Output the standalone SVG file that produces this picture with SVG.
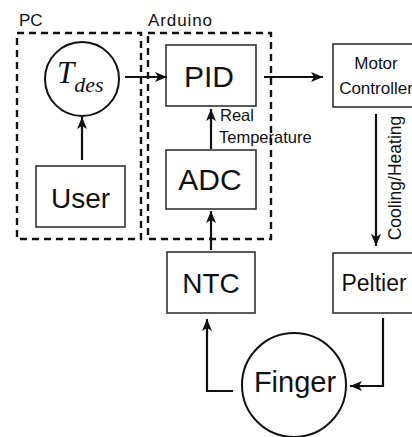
<svg xmlns="http://www.w3.org/2000/svg" width="412" height="437" viewBox="0 0 412 437">
<defs>
<style>
.box{fill:#fff;stroke:#333;stroke-width:1.6}
.grp{fill:none;stroke:#111;stroke-width:2.4;stroke-dasharray:7 5}
.ln{fill:none;stroke:#111;stroke-width:2.2}
.t{font-family:"Liberation Sans",Arial,sans-serif;fill:#111}
.c{text-anchor:middle}
</style>
<marker id="ah" markerUnits="userSpaceOnUse" markerWidth="14" markerHeight="10" refX="12" refY="5" orient="auto">
<path d="M0,0 L12,5 L0,10 L3,5 z" fill="#111"/>
</marker>
</defs>
<rect width="412" height="437" fill="#fff"/>
<g id="group-pc">
<rect class="grp" x="17" y="33" width="124" height="206"/>
<text class="t" x="19" y="26" font-size="17">PC</text>
</g>
<g id="group-arduino">
<rect class="grp" x="148" y="33" width="123" height="206"/>
<text class="t" x="148" y="26" font-size="17" textLength="64">Arduino</text>
</g>
<g id="tdes">
<circle cx="82" cy="79" r="37" fill="#fff" stroke="#111" stroke-width="2"/>
<text x="57" y="83" font-family="'Liberation Serif','Times New Roman',serif" font-style="italic" font-size="31" fill="#111">T<tspan font-size="22" dy="9">des</tspan></text>
</g>
<g id="user">
<rect class="box" x="36" y="166" width="89" height="61"/>
<text class="t c" x="80.5" y="208" font-size="28">User</text>
</g>
<g id="pid">
<rect class="box" x="166" y="45" width="90" height="61"/>
<text class="t c" x="209" y="87" font-size="30">PID</text>
</g>
<g id="adc">
<rect class="box" x="166" y="150" width="90" height="59"/>
<text class="t c" x="210" y="190" font-size="30">ADC</text>
</g>
<g id="ntc">
<rect class="box" x="167" y="252" width="88" height="61"/>
<text class="t c" x="211" y="293" font-size="28">NTC</text>
</g>
<g id="motor">
<rect class="box" x="333" y="44" width="86" height="63"/>
<text class="t c" x="376" y="69" font-size="17">Motor</text>
<text class="t c" x="376" y="94" font-size="17">Controller</text>
</g>
<g id="peltier">
<rect class="box" x="333" y="253" width="86" height="60"/>
<text class="t c" x="374" y="291" font-size="23">Peltier</text>
</g>
<g id="finger">
<circle cx="294" cy="385" r="52" fill="#fff" stroke="#111" stroke-width="2"/>
<text class="t c" x="295" y="392" font-size="29">Finger</text>
</g>
<g id="connectors">
<path class="ln" d="M125,77 L167,77" marker-end="url(#ah)"/>
<path class="ln" d="M264,77 L323,77" marker-end="url(#ah)"/>
<path class="ln" d="M82,160 L82,117" marker-end="url(#ah)"/>
<path class="ln" d="M211,149 L211,109" marker-end="url(#ah)"/>
<path class="ln" d="M211,250 L211,211" marker-end="url(#ah)"/>
<path class="ln" d="M376,114 L376,246" marker-end="url(#ah)"/>
<path class="ln" d="M383,318 L383,386 L350,386" marker-end="url(#ah)"/>
<path class="ln" d="M233,391 L207,391 L207,319" marker-end="url(#ah)"/>
<text class="t" x="220" y="121" font-size="16.5">Real</text>
<text class="t" x="219" y="143" font-size="16.5">Temperature</text>
<text class="t c" transform="translate(401,178) rotate(-90)" font-size="17.5">Cooling/Heating</text>
</g>
</svg>
